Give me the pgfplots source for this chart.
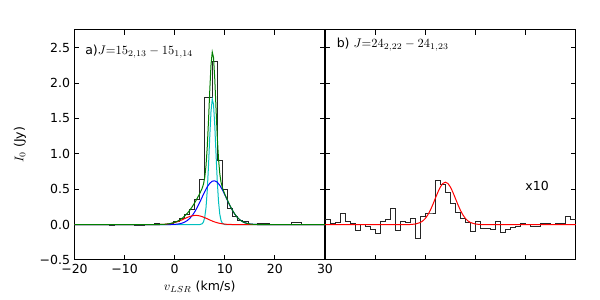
\documentclass[border=0pt]{standalone}
\usepackage{fontspec}
\setmainfont{DejaVu Sans}
\usepackage{pgfplots}
\pgfplotsset{compat=1.18}
\definecolor{mplgreen}{rgb}{0,0.5,0}
\definecolor{mplcyan}{rgb}{0,0.75,0.75}
\pgfplotsset{
  specaxis/.style={
    scale only axis, height=184pt,
    xmin=-20,xmax=30,ymin=-0.5,ymax=2.75,
    xtick={-20,-10,0,10,20,30},
    ytick={-0.5,0,0.5,1,1.5,2,2.5},
    tick align=inside, xtick pos=both, ytick pos=both,
    major tick length=4pt,
    minor tick num=0,
    axis line style={black, line width=0.8pt},
    every tick/.style={black, line width=0.8pt},
    tick label style={font=\fontsize{10}{12}\selectfont},
    anchor=south west,
  }
}
\begin{document}
\begin{tikzpicture}
\path[use as bounding box] (0,0) rectangle (480pt,240pt);
% ---------------- left panel ----------------
\begin{axis}[specaxis, width=200.4pt, at={(59.6pt,32pt)},
  xticklabels={−20,−10,0,10,20,30},
  yticklabels={−0.5,0.0,0.5,1.0,1.5,2.0,2.5},
  xlabel={$v_{LSR}$ (km/s)},
  ylabel={$I_0$ (Jy)},
  xlabel style={at={(axis description cs:0.5,-0.1174)}, anchor=center, font=\fontsize{10}{12}\selectfont},
  ylabel style={at={(axis description cs:-0.2176,0.5)}, anchor=center, font=\fontsize{10}{12}\selectfont},
]
\addplot[const plot, black!85, line width=0.8pt] coordinates {
(-20,0) (-18,0.005) (-17,0) (-16,-0.005) (-15,0) (-13,-0.01) (-12,0) (-11,0.005) (-10,0)
(-8,-0.01) (-6,0) (-5,0.005) (-4,0.015) (-3,0.005) (-1,0.01) (-0.3,0.04) (1,0.09) (2,0.14)
(3,0.21) (4,0.35) (5,0.64) (6,1.80) (7.5,2.30) (8.5,0.91) (9.5,0.49) (10.5,0.23) (11.5,0.11)
(12.5,0.06) (13.5,0.05) (14.7,0.0) (16.5,0.01) (19,0) (23.3,0.03) (25.3,0) (30,0)};
\addplot[mplcyan, line width=0.8pt] coordinates {
(-20,0) (4.5,0) (5,0.0008) (5.5,0.0123) (5.75,0.0385) (6,0.1037) (6.25,0.2409) (6.5,0.4828) (6.75,0.835)
(7,1.2445) (7.25,1.6002) (7.5,1.7747) (7.75,1.6977) (8,1.4009) (8.25,0.9966) (8.5,0.6118)
(8.75,0.324) (9,0.1479) (9.25,0.0582) (9.5,0.0198) (10,0.0015) (10.5,0) (30,0)};
\addplot[blue, line width=0.8pt] coordinates {
(-20,0) (-3,0) (-2,0.0002) (-1,0.0009) (0,0.0037) (0.5,0.0069) (1,0.0124) (1.5,0.0215) (2,0.0358)
(2.5,0.0571) (3,0.0873) (3.5,0.1281) (4,0.1803) (4.5,0.2434) (5,0.315) (5.5,0.3914) (6,0.4662)
(6.5,0.5327) (7,0.5838) (7.5,0.6137) (8,0.6188) (8.5,0.5985) (9,0.5553) (9.5,0.4942) (10,0.4218)
(10.5,0.3453) (11,0.2712) (11.5,0.2043) (12,0.1476) (12.5,0.1023) (13,0.068) (13.5,0.0434)
(14,0.0265) (14.5,0.0156) (15,0.0088) (16,0.0024) (17,0.0006) (18,0) (30,0)};
\addplot[red, line width=0.8pt] coordinates {
(-20,0) (-6,0) (-4,0.0004) (-3,0.0014) (-2,0.0046) (-1,0.0124) (0,0.0281) (0.5,0.0396) (1,0.0534)
(1.5,0.069) (2,0.0854) (2.5,0.1011) (3,0.1147) (3.5,0.1246) (4,0.1295) (4.5,0.129) (5,0.123)
(5.5,0.1123) (6,0.0981) (6.5,0.0821) (7,0.0658) (7.5,0.0505) (8,0.0371) (8.5,0.0261) (9,0.0176)
(9.5,0.0114) (10,0.007) (10.5,0.0041) (11,0.0023) (11.5,0.0013) (12,0.0007) (13,0) (30,0)};
\addplot[mplgreen, line width=0.8pt] coordinates {
(-20,0) (-6,0) (-4,0.0004) (-3,0.0014) (-2,0.0048) (-1,0.0133) (0,0.0318) (0.5,0.0465) (1,0.0658)
(1.5,0.0905) (2,0.1212) (2.5,0.1582) (3,0.202) (3.5,0.2527) (4,0.3098) (4.5,0.3724) (5,0.4388)
(5.5,0.516) (5.75,0.5734) (6,0.668) (6.25,0.8322) (6.5,1.0976) (6.75,1.4695) (7,1.8941)
(7.25,2.2599) (7.5,2.4389) (7.75,2.3607) (8,2.0568) (8.25,1.6397) (8.5,1.2364) (8.75,0.9251)
(9,0.7208) (9.25,0.599) (9.5,0.5254) (10,0.4303) (10.5,0.3494) (11,0.2735) (11.5,0.2056)
(12,0.1483) (12.5,0.1023) (13,0.068) (13.5,0.0434) (14,0.0265) (14.5,0.0156) (15,0.0088)
(16,0.0024) (17,0.0006) (18,0) (30,0)};
\node[anchor=west, inner sep=0pt, font=\fontsize{10}{12}\selectfont] at (axis cs:-17.9,2.45) {a)$J{=}15_{2,13}-15_{1,14}$};
\end{axis}
% ---------------- right panel ----------------
\begin{axis}[specaxis, width=200.6pt, at={(260pt,32pt)},
  xticklabels={}, yticklabels={},
]
\addplot[const plot, black!85, line width=0.8pt] coordinates {
(-20,0.075) (-19,0.01) (-18,0.03) (-17,0.16) (-16,0.04) (-15,0.01) (-14,-0.09) (-13,0.005)
(-12,-0.02) (-11,-0.065) (-10,-0.13) (-9,0.04) (-8,0.075) (-7,0.23) (-6,-0.09) (-5,0.04)
(-4,0.03) (-3,0.09) (-2,-0.19) (-1,0.11) (0,0.15) (1,0.15) (2,0.62) (3,0.56) (4,0.45) (5,0.30)
(6,0.17) (7,0.09) (8,0.03) (9,-0.10) (10,0.05) (11,-0.06) (12,-0.06) (13,-0.07) (14,0.04)
(15,-0.11) (16,-0.07) (17,-0.04) (18,-0.03) (19,0.02) (20,0.0) (21,-0.02) (22,-0.02) (23,0.01)
(24,0.01) (25,0.0) (26,0.01) (27,0.01) (28,0.11) (29,0.07) (30,0.07)};
\addplot[red, line width=0.8pt] coordinates {
(-20,0) (-4,0) (-3,0.0016) (-2,0.0078) (-1,0.0295) (-0.5,0.0523) (0,0.0873) (0.5,0.1372) (1,0.2029)
(1.5,0.2826) (2,0.3705) (2.5,0.4575) (3,0.5319) (3.5,0.5822) (4,0.6) (4.5,0.5822) (5,0.5319)
(5.5,0.4575) (6,0.3705) (6.5,0.2826) (7,0.2029) (7.5,0.1372) (8,0.0873) (8.5,0.0523) (9,0.0295)
(10,0.0078) (11,0.0016) (12,0) (30,0)};
\node[anchor=west, inner sep=0pt, font=\fontsize{10}{12}\selectfont] at (axis cs:-17.7,2.54) {b) $J{=}24_{2,22}-24_{1,23}$};
\node[font=\fontsize{10}{12}\selectfont] at (axis cs:22.3,0.55) {x10};
\end{axis}
\end{tikzpicture}
\end{document}
